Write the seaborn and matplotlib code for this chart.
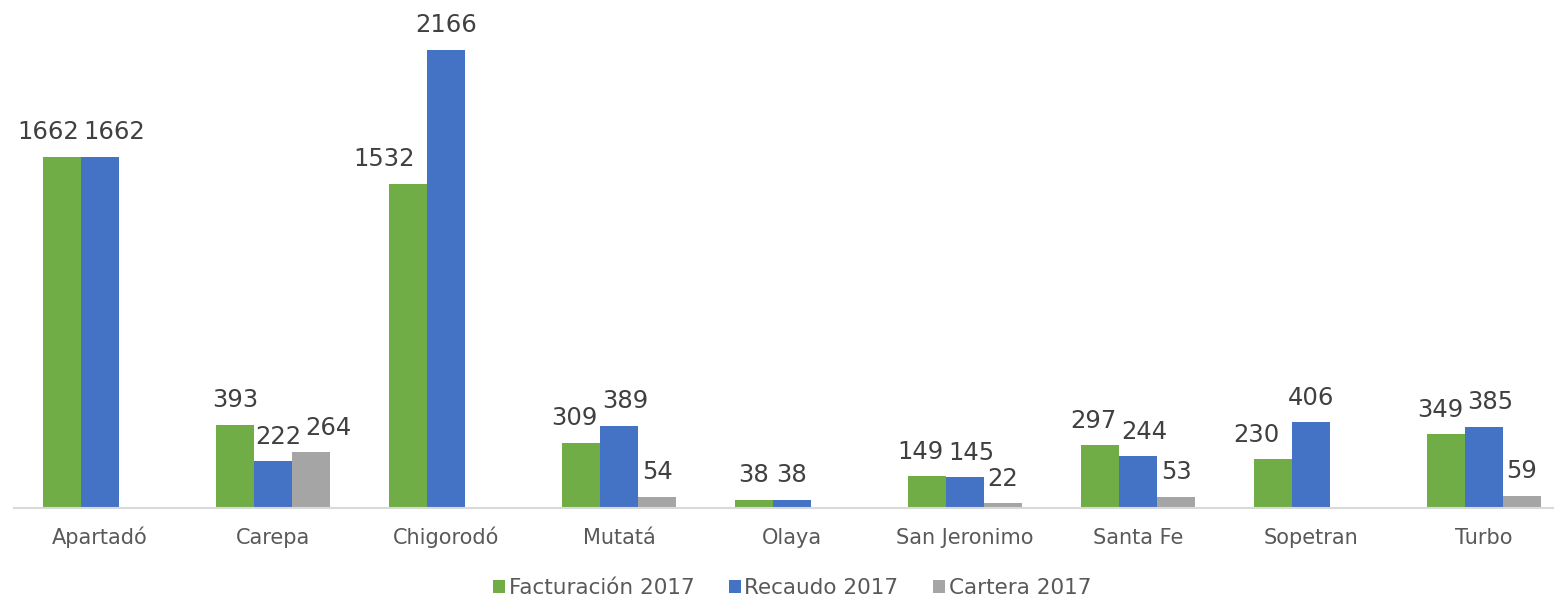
import matplotlib
matplotlib.use("Agg")
import matplotlib.pyplot as plt
import seaborn as sns
import pandas as pd
import numpy as np

municipios = ["Apartadó", "Carepa", "Chigorodó", "Mutatá", "Olaya",
              "San Jeronimo", "Santa Fe", "Sopetran", "Turbo"]
facturacion = [1662, 393, 1532, 309, 38, 149, 297, 230, 349]
recaudo = [1662, 222, 2166, 389, 38, 145, 244, 406, 385]
cartera = [np.nan, 264, np.nan, 54, np.nan, 22, 53, np.nan, 59]
series = ["Facturación 2017", "Recaudo 2017", "Cartera 2017"]
colores = ["#70AD47", "#4472C4", "#A5A5A5"]

df = pd.DataFrame({"Municipio": municipios,
                   series[0]: facturacion,
                   series[1]: recaudo,
                   series[2]: cartera})
long_df = df.melt(id_vars="Municipio", var_name="Serie", value_name="Valor")

sns.set_style("white")
plt.rcParams["font.family"] = ["DejaVu Sans"]

fig = plt.figure(figsize=(15.54, 6.01), dpi=100)
ax = fig.add_axes([13.5 / 1554, 93 / 601, 1557 / 1554, 508 / 601])

sns.barplot(data=long_df, x="Municipio", y="Valor", hue="Serie",
            hue_order=series, palette=colores, width=0.66,
            saturation=1, errorbar=None, linewidth=0, ax=ax, legend=True)

ax.set_ylim(0, 2402)
ax.set_xlim(-0.5, len(municipios) - 0.5)
ax.set_xlabel("")
ax.set_ylabel("")
ax.set_yticks([])
for s in ["top", "right", "left"]:
    ax.spines[s].set_visible(False)
ax.spines["bottom"].set_color("#D9D9D9")
ax.spines["bottom"].set_linewidth(1.5)
ax.tick_params(axis="x", length=0, pad=26, labelsize=15, labelcolor="#595959")
for lbl in ax.get_xticklabels():
    lbl.set_verticalalignment("baseline")

# data labels
labels = []
bars = []
for cont in ax.containers:
    for patch in cont.patches:
        h = patch.get_height()
        if np.isnan(h) or h == 0:
            continue
        xc = patch.get_x() + patch.get_width() / 2
        t = ax.annotate(f"{int(h)}", (xc, h), xytext=(0, 9),
                        textcoords="offset points", ha="center", va="bottom",
                        fontsize=17.5, color="#404040")
        labels.append((xc, t, patch))
        bars.append(patch)

# simple overlap avoidance, like Excel spreading labels
fig.canvas.draw()
r = fig.canvas.get_renderer()
k = 72 / fig.dpi
labels.sort(key=lambda a: a[0])
for _ in range(3):
    for i in range(len(labels) - 1):
        _, t1, _ = labels[i]
        _, t2, _ = labels[i + 1]
        b1 = t1.get_window_extent(r)
        b2 = t2.get_window_extent(r)
        if b1.y1 > b2.y0 and b2.y1 > b1.y0 and b1.x1 + 4 > b2.x0:
            ov = (b1.x1 + 4 - b2.x0) / 2
            x1, y1 = t1.xyann
            x2, y2 = t2.xyann
            t1.xyann = (x1 - ov * k, y1)
            t2.xyann = (x2 + ov * k, y2)
    for xc, t, own in labels:
        b = t.get_window_extent(r)
        for p in bars:
            if p is own:
                continue
            pb = p.get_window_extent(r)
            if b.y0 < pb.y1 and b.x1 > pb.x0 and b.x0 < pb.x1:
                x, y = t.xyann
                if pb.x0 > b.x0:
                    t.xyann = (x - (b.x1 - pb.x0 + 12) * k, y)
                else:
                    t.xyann = (x + (pb.x1 - b.x0 + 12) * k, y)
                b = t.get_window_extent(r)

ax.legend(loc="center", bbox_to_anchor=(0.5, -0.158), ncol=3, frameon=False,
          fontsize=15.5, labelcolor="#595959", handlelength=0.58,
          handleheight=0.58, handletextpad=0.15, columnspacing=1.6)

fig.savefig("out.png", dpi=100)
